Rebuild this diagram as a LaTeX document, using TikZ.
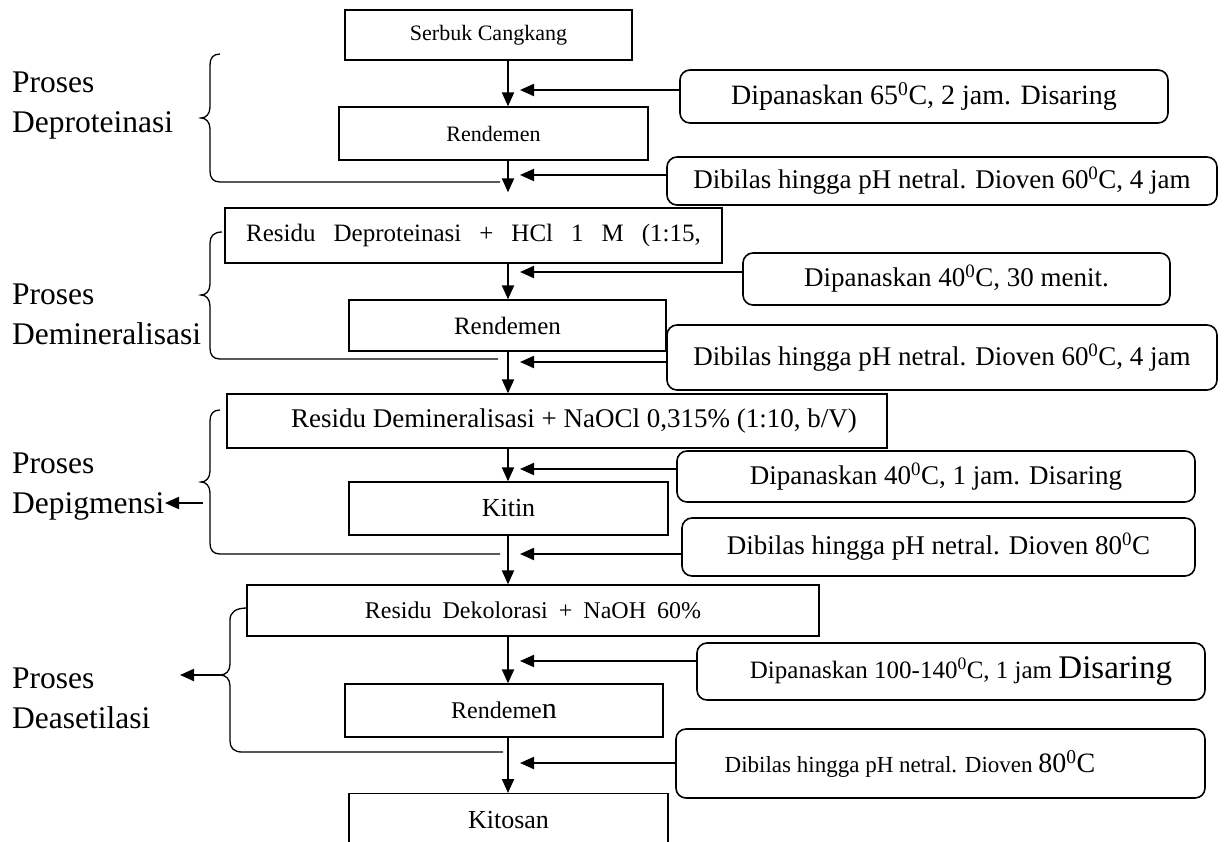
\documentclass[tikz,border=0pt]{standalone}
\usepackage{fontspec}
\setmainfont{Liberation Serif}
\usetikzlibrary{arrows.meta}
\begin{document}
\begin{tikzpicture}[x=1pt,y=-1pt,
  box/.style={draw, line width=1.3pt, inner sep=0pt},
  rbox/.style={draw, line width=1.6pt, rounded corners=10pt, inner sep=0pt},
  txt/.style={inner sep=0pt},
  flow/.style={line width=2pt, -{Triangle[length=14pt,width=12pt]}},
  brace/.style={line width=1.3pt},
  lab/.style={font=\fontsize{31.5}{38}\selectfont, inner sep=0pt, anchor=base west},
  fa/.style={font=\fontsize{22}{26}\selectfont},
  fb/.style={font=\fontsize{25}{30}\selectfont},
  fd/.style={font=\fontsize{26}{30}\selectfont},
  fe/.style={font=\fontsize{27}{32}\selectfont}
]
\useasboundingbox (0,0) rectangle (1231,841);
\coordinate (xl) at (508,0);

% main boxes
\node[box,fa,minimum width=287pt,minimum height=50pt] (A) at (488.5,35) {Serbuk Cangkang};
\node[box,fa,minimum width=309pt,minimum height=53pt] (B) at (493.5,133.5) {Rendemen};
\node[box,fb,minimum width=497pt,minimum height=55pt] (C) at (473.5,235.5) {Residu\hspace{18pt}Deproteinasi\hspace{18pt}+\hspace{18pt}HCl\hspace{18pt}1\hspace{18pt}M\hspace{18pt}(1:15,};
\node[box,fb,minimum width=317pt,minimum height=51pt] (D) at (507.5,325.5) {Rendemen};
\node[box,minimum width=660pt,minimum height=54pt] (E) at (557,421) {};
\node[txt,fe] (Et) at (574,421) {Residu Demineralisasi + NaOCl 0,315\% (1:10, b/V)};
\node[box,fd,minimum width=319pt,minimum height=53pt] (F) at (508.5,508.5) {Kitin};
\node[box,font=\fontsize{24}{28}\selectfont,minimum width=572pt,minimum height=51pt] (G) at (533,610.5) {Residu\hspace{11pt}Dekolorasi\hspace{11pt}+\hspace{11pt}NaOH\hspace{11pt}60\%};
\node[box,font=\fontsize{24}{28}\selectfont,minimum width=318pt,minimum height=53pt] (H) at (504,710.5) {Rendeme{\fontsize{30}{32}\selectfont n}};
\node[box,minimum width=319pt,minimum height=80pt,anchor=north] (I) at (508.5,793) {};
\node[txt,fd] (It) at (508.5,820) {Kitosan};

% side boxes
\node[rbox,font=\fontsize{28}{32}\selectfont,minimum width=488pt,minimum height=53pt] (R1) at (924,96.5) {Dipanaskan 65\textsuperscript{0}C, 2 jam. Disaring};
\node[rbox,fe,minimum width=550pt,minimum height=48pt] (R2) at (942,181) {Dibilas hingga pH netral. Dioven 60\textsuperscript{0}C, 4 jam};
\node[rbox,fe,minimum width=427pt,minimum height=52pt] (R3) at (956.5,279) {Dipanaskan 40\textsuperscript{0}C, 30 menit.};
\node[rbox,fe,minimum width=550pt,minimum height=65pt] (R4) at (942,357.5) {Dibilas hingga pH netral. Dioven 60\textsuperscript{0}C, 4 jam};
\node[rbox,fe,minimum width=518pt,minimum height=51pt] (R5) at (936,476.5) {Dipanaskan 40\textsuperscript{0}C, 1 jam. Disaring};
\node[rbox,fe,minimum width=513pt,minimum height=58pt] (R6) at (938.5,547) {Dibilas hingga pH netral. Dioven 80\textsuperscript{0}C};
\node[rbox,minimum width=508pt,minimum height=57pt] (R7) at (951,671.5) {};
\node[txt,font=\fontsize{25}{30}\selectfont] (R7t) at (961,671.5) {Dipanaskan 100-140\textsuperscript{0}C, 1 jam {\fontsize{33}{36}\selectfont Disaring}};
\node[rbox,minimum width=529pt,minimum height=69pt] (R8) at (940.5,763.5) {};
\node[txt,font=\fontsize{23}{27}\selectfont] (R8t) at (910,763.5) {Dibilas hingga pH netral. Dioven {\fontsize{28}{32}\selectfont 80\textsuperscript{0}C}};

% vertical flow
\draw[flow] (A.south -| xl) -- (B.north -| xl);
\draw[flow,shorten >=15pt] (B.south -| xl) -- (C.north -| xl);
\draw[flow] (C.south -| xl) -- (D.north -| xl);
\draw[flow] (D.south -| xl) -- (E.north -| xl);
\draw[flow] (E.south -| xl) -- (F.north -| xl);
\draw[flow] (F.south -| xl) -- (G.north -| xl);
\draw[flow] (G.south -| xl) -- (H.north -| xl);
\draw[flow] (H.south -| xl) -- (I.north -| xl);

% side arrows
\coordinate (t1) at (520,90);
\coordinate (t2) at (520,175);
\coordinate (t3) at (520,272);
\coordinate (t4) at (520,362);
\coordinate (t5) at (520,469);
\coordinate (t6) at (520,554);
\coordinate (t7) at (520,661);
\coordinate (t8) at (520,763);
\draw[flow] (t1 -| R1.west) -- (t1);
\draw[flow] (t2 -| R2.west) -- (t2);
\draw[flow] (t3 -| R3.west) -- (t3);
\draw[flow] (t4 -| R4.west) -- (t4);
\draw[flow] (t5 -| R5.west) -- (t5);
\draw[flow] (t6 -| R6.west) -- (t6);
\draw[flow] (t7 -| R7.west) -- (t7);
\draw[flow] (t8 -| R8.west) -- (t8);

% braces
\draw[brace] (220,54) .. controls (213,54) and (210,58) .. (210,65) -- (210,107)
  .. controls (210,114) and (206,118) .. (201,118) .. controls (206,118) and (210,122) .. (210,129)
  -- (210,171) .. controls (210,178) and (213,182) .. (220,182) -- (500,182);
\draw[brace] (222,232) .. controls (214,232) and (210,236) .. (210,243) -- (210,284)
  .. controls (210,291) and (206,295) .. (201,295) .. controls (206,295) and (210,299) .. (210,306)
  -- (210,348) .. controls (210,355) and (213,359) .. (220,359) -- (498,359);
\draw[brace] (220,410) .. controls (213,410) and (210,414) .. (210,421) -- (210,471)
  .. controls (210,478) and (206,482) .. (201,482) .. controls (206,482) and (210,486) .. (210,493)
  -- (210,543) .. controls (210,550) and (213,554) .. (220,554) -- (500,554);
\draw[brace] (247,608) .. controls (236,608) and (230,612) .. (230,620) -- (230,664)
  .. controls (230,671) and (226,675) .. (220,675) .. controls (226,675) and (230,679) .. (230,686)
  -- (230,741) .. controls (230,748) and (234,752) .. (242,752) -- (503,752);

% labels
\node[lab] (p1) at (12,92) {Proses};
\node[lab] (l1) at (12,132) {Deproteinasi};
\node[lab] (p2) at (12,304) {Proses};
\node[lab] (l2) at (12,344) {Demineralisasi};
\node[lab] (p3) at (12,473) {Proses};
\node[lab] (l3) at (12,513) {Depigmensi};
\node[lab] (p4) at (12,688) {Proses};
\node[lab] (l4) at (12,728) {Deasetilasi};

\coordinate (a3s) at (203,503);
\coordinate (a3e) at (165,503);
\draw[flow] (a3s) -- (a3e);
\coordinate (a4s) at (220,675);
\coordinate (a4e) at (180,675);
\draw[flow] (a4s) -- (a4e);
\end{tikzpicture}
\end{document}
